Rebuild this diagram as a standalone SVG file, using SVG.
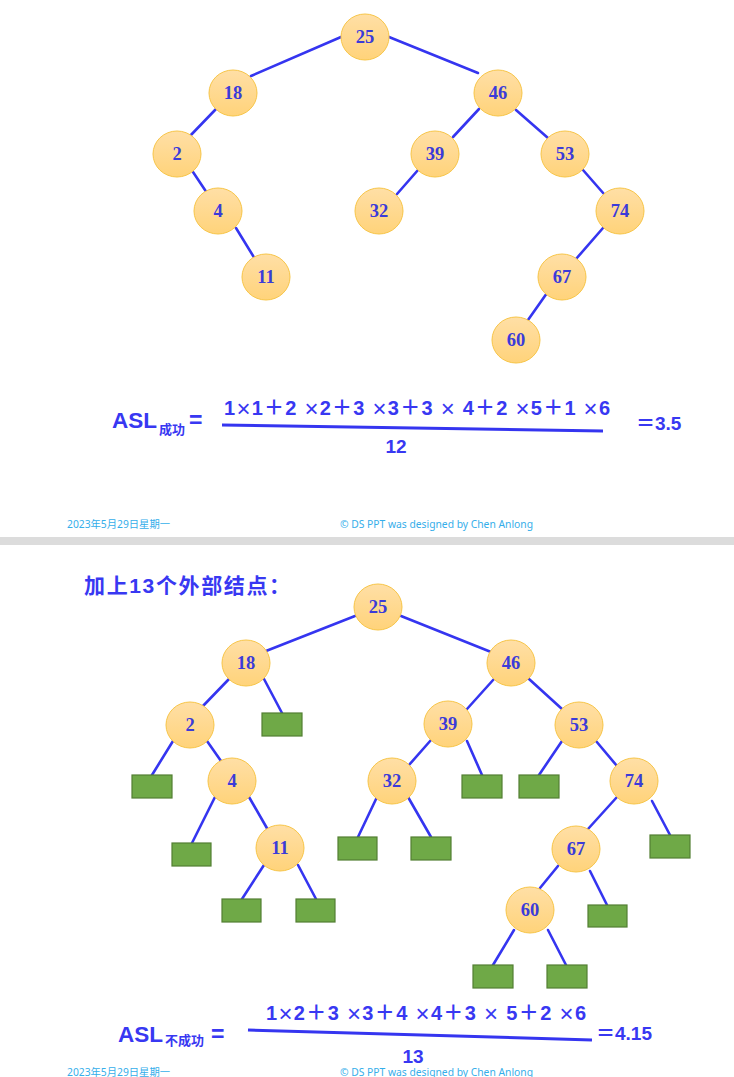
<svg xmlns="http://www.w3.org/2000/svg" width="734" height="1077" viewBox="0 0 734 1077">
<defs>
<linearGradient id="ng" x1="0" y1="0" x2="0" y2="1">
<stop offset="0" stop-color="#FFDFA6"/>
<stop offset="1" stop-color="#FFD37A"/>
</linearGradient>
</defs>
<style>
.n ellipse{fill:url(#ng);stroke:#F7C548;stroke-width:1}
.n text{font-family:"Liberation Serif",serif;font-weight:bold;font-size:18.5px;fill:#3B3BD9;text-anchor:middle}
.e rect{fill:#6FA947;stroke:#537F33;stroke-width:1.2}
.c line{stroke:#3535F0;stroke-width:2.6;stroke-linecap:round}
.f{font-family:"Liberation Sans","Noto Sans CJK SC",sans-serif;font-weight:bold;fill:#3838F2}
.x{font-family:"Liberation Sans",sans-serif;font-weight:normal;font-size:24px}
.ft{font-family:"Noto Sans","Noto Sans CJK SC",sans-serif;font-size:10.3px;fill:#35AEEA}
</style>
<rect x="0" y="0" width="734" height="1077" fill="#FFFFFF"/>
<rect x="0" y="537" width="734" height="8" fill="#DCDCDC"/>

<g id="connectors-top" class="c">
<line x1="341" y1="37" x2="251" y2="76"/>
<line x1="389" y1="37" x2="478" y2="73"/>
<line x1="216" y1="109" x2="189" y2="137"/>
<line x1="479" y1="109" x2="453" y2="137"/>
<line x1="516" y1="110" x2="548" y2="138"/>
<line x1="193" y1="172" x2="207" y2="193"/>
<line x1="418" y1="170" x2="397" y2="194"/>
<line x1="583" y1="170" x2="604" y2="194"/>
<line x1="236" y1="228" x2="255" y2="259"/>
<line x1="603" y1="228" x2="576" y2="259"/>
<line x1="547" y1="293" x2="528" y2="320"/>
</g>

<g id="t25" class="n"><ellipse cx="365" cy="37" rx="24" ry="23"/><text x="365" y="43">25</text></g>
<g id="t18" class="n"><ellipse cx="233" cy="93" rx="24" ry="23"/><text x="233" y="99">18</text></g>
<g id="t46" class="n"><ellipse cx="498" cy="93" rx="24" ry="23"/><text x="498" y="99">46</text></g>
<g id="t2" class="n"><ellipse cx="177" cy="154" rx="24" ry="23"/><text x="177" y="160">2</text></g>
<g id="t39" class="n"><ellipse cx="435" cy="154" rx="24" ry="23"/><text x="435" y="160">39</text></g>
<g id="t53" class="n"><ellipse cx="565" cy="154" rx="24" ry="23"/><text x="565" y="160">53</text></g>
<g id="t4" class="n"><ellipse cx="218" cy="211" rx="24" ry="23"/><text x="218" y="217">4</text></g>
<g id="t32" class="n"><ellipse cx="379" cy="211" rx="24" ry="23"/><text x="379" y="217">32</text></g>
<g id="t74" class="n"><ellipse cx="620" cy="211" rx="24" ry="23"/><text x="620" y="217">74</text></g>
<g id="t11" class="n"><ellipse cx="266" cy="277" rx="24" ry="23"/><text x="266" y="283">11</text></g>
<g id="t67" class="n"><ellipse cx="562" cy="277" rx="24" ry="23"/><text x="562" y="283">67</text></g>
<g id="t60" class="n"><ellipse cx="516" cy="340" rx="24" ry="23"/><text x="516" y="346">60</text></g>

<g id="formula1">
<text class="f" x="112" y="428" font-size="22.5">ASL</text>
<text class="f" x="159" y="434" font-size="13">成功</text>
<text class="f" x="189" y="428" font-size="23">=</text>
<text class="f" x="224" y="415" font-size="20" textLength="386" lengthAdjust="spacing">1<tspan class="x" dy="2">×</tspan><tspan dy="-2">1＋2 </tspan><tspan class="x" dy="2">×</tspan><tspan dy="-2">2＋3 </tspan><tspan class="x" dy="2">×</tspan><tspan dy="-2">3＋3 </tspan><tspan class="x" dy="2">×</tspan><tspan dy="-2"> 4＋2 </tspan><tspan class="x" dy="2">×</tspan><tspan dy="-2">5＋1 </tspan><tspan class="x" dy="2">×</tspan><tspan dy="-2">6</tspan></text>
<line x1="222" y1="425" x2="603" y2="431" stroke="#3535F0" stroke-width="3"/>
<text class="f" x="396" y="453" font-size="19" text-anchor="middle">12</text>
<text class="f" x="636" y="430" font-size="19">＝3.5</text>
</g>

<text class="ft" x="67" y="528">2023年5月29日星期一</text>
<text class="ft" x="340" y="528">© DS PPT was designed by Chen Anlong</text>

<text class="f" x="84" y="593" font-size="21" textLength="206" lengthAdjust="spacing">加上13个外部结点：</text>

<g id="connectors-bottom" class="c">
<line x1="355" y1="616" x2="266" y2="651"/>
<line x1="401" y1="616" x2="491" y2="652"/>
<line x1="229" y1="679" x2="202" y2="707"/>
<line x1="264" y1="679" x2="282" y2="713"/>
<line x1="494" y1="679" x2="467" y2="709"/>
<line x1="529" y1="679" x2="562" y2="709"/>
<line x1="173" y1="741" x2="152" y2="775"/>
<line x1="207" y1="741" x2="221" y2="761"/>
<line x1="431" y1="740" x2="409" y2="765"/>
<line x1="467" y1="741" x2="482" y2="775"/>
<line x1="562" y1="741" x2="539" y2="775"/>
<line x1="596" y1="741" x2="617" y2="766"/>
<line x1="215" y1="797" x2="192" y2="843"/>
<line x1="249" y1="797" x2="268" y2="830"/>
<line x1="377" y1="797" x2="358" y2="837"/>
<line x1="408" y1="797" x2="431" y2="837"/>
<line x1="617" y1="797" x2="588" y2="829"/>
<line x1="652" y1="801" x2="670" y2="835"/>
<line x1="264" y1="865" x2="242" y2="899"/>
<line x1="298" y1="865" x2="316" y2="899"/>
<line x1="558" y1="866" x2="540" y2="888"/>
<line x1="590" y1="871" x2="607" y2="905"/>
<line x1="514" y1="930" x2="493" y2="965"/>
<line x1="548" y1="930" x2="566" y2="965"/>
</g>

<g id="b25" class="n"><ellipse cx="378" cy="607" rx="24" ry="23"/><text x="378" y="613">25</text></g>
<g id="b18" class="n"><ellipse cx="246" cy="663" rx="24" ry="23"/><text x="246" y="669">18</text></g>
<g id="b46" class="n"><ellipse cx="511" cy="663" rx="24" ry="23"/><text x="511" y="669">46</text></g>
<g id="b2" class="n"><ellipse cx="190" cy="725" rx="24" ry="23"/><text x="190" y="731">2</text></g>
<g id="b39" class="n"><ellipse cx="448" cy="724" rx="24" ry="23"/><text x="448" y="730">39</text></g>
<g id="b53" class="n"><ellipse cx="579" cy="725" rx="24" ry="23"/><text x="579" y="731">53</text></g>
<g id="b4" class="n"><ellipse cx="232" cy="781" rx="24" ry="23"/><text x="232" y="787">4</text></g>
<g id="b32" class="n"><ellipse cx="392" cy="781" rx="24" ry="23"/><text x="392" y="787">32</text></g>
<g id="b74" class="n"><ellipse cx="634" cy="781" rx="24" ry="23"/><text x="634" y="787">74</text></g>
<g id="b11" class="n"><ellipse cx="280" cy="848" rx="24" ry="23"/><text x="280" y="854">11</text></g>
<g id="b67" class="n"><ellipse cx="576" cy="849" rx="24" ry="23"/><text x="576" y="855">67</text></g>
<g id="b60" class="n"><ellipse cx="530" cy="910" rx="24" ry="23"/><text x="530" y="916">60</text></g>

<g id="ext1" class="e"><rect x="262" y="713" width="40" height="23"/></g>
<g id="ext2" class="e"><rect x="132" y="775" width="40" height="23"/></g>
<g id="ext3" class="e"><rect x="172" y="843" width="39" height="23"/></g>
<g id="ext4" class="e"><rect x="222" y="899" width="39" height="23"/></g>
<g id="ext5" class="e"><rect x="296" y="899" width="39" height="23"/></g>
<g id="ext6" class="e"><rect x="338" y="837" width="39" height="23"/></g>
<g id="ext7" class="e"><rect x="411" y="837" width="40" height="23"/></g>
<g id="ext8" class="e"><rect x="462" y="775" width="40" height="23"/></g>
<g id="ext9" class="e"><rect x="519" y="775" width="40" height="23"/></g>
<g id="ext10" class="e"><rect x="650" y="835" width="40" height="23"/></g>
<g id="ext11" class="e"><rect x="588" y="905" width="39" height="22"/></g>
<g id="ext12" class="e"><rect x="473" y="965" width="40" height="23"/></g>
<g id="ext13" class="e"><rect x="547" y="965" width="40" height="23"/></g>

<g id="formula2">
<text class="f" x="118" y="1042" font-size="22.5">ASL</text>
<text class="f" x="165" y="1045" font-size="13">不成功</text>
<text class="f" x="211" y="1042" font-size="23">=</text>
<text class="f" x="266" y="1020" font-size="20" textLength="320" lengthAdjust="spacing">1<tspan class="x" dy="2">×</tspan><tspan dy="-2">2＋3 </tspan><tspan class="x" dy="2">×</tspan><tspan dy="-2">3＋4 </tspan><tspan class="x" dy="2">×</tspan><tspan dy="-2">4＋3 </tspan><tspan class="x" dy="2">×</tspan><tspan dy="-2"> 5＋2 </tspan><tspan class="x" dy="2">×</tspan><tspan dy="-2">6</tspan></text>
<line x1="248" y1="1030" x2="592" y2="1040" stroke="#3535F0" stroke-width="3"/>
<text class="f" x="413" y="1063" font-size="19" text-anchor="middle">13</text>
<text class="f" x="596" y="1040" font-size="19">＝4.15</text>
</g>

<text class="ft" x="67" y="1076">2023年5月29日星期一</text>
<text class="ft" x="340" y="1076">© DS PPT was designed by Chen Anlong</text>
</svg>
